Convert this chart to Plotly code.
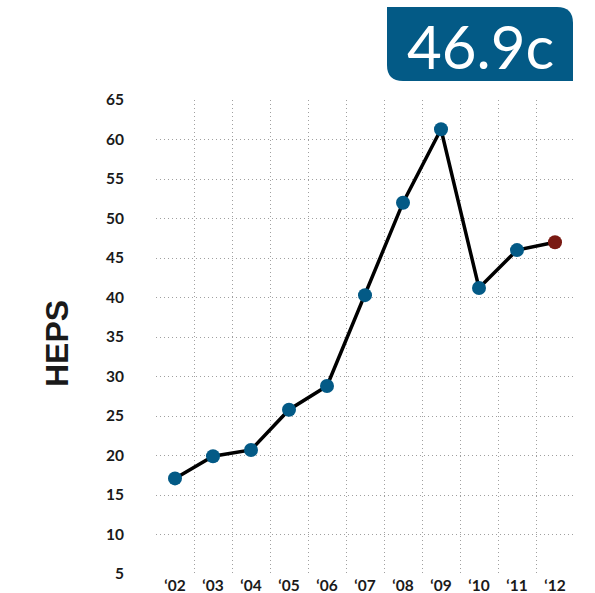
import plotly.graph_objects as go

years = ["‘02", "‘03", "‘04", "‘05", "‘06", "‘07", "‘08", "‘09", "‘10", "‘11", "‘12"]
heps = [17.1, 19.9, 20.7, 25.8, 28.8, 40.3, 52.0, 61.3, 41.2, 46.0, 47.0]
y_ticks = [5, 10, 15, 20, 25, 30, 35, 40, 45, 50, 55, 60, 65]
headline = "46.9c"

BLUE = "#035A86"
RED = "#7A1A13"
GRID = "#A0A0A0"
DASH = "1px,3px"

x_idx = list(range(len(years)))
marker_colors = [BLUE] * (len(heps) - 1) + [RED]

fig = go.Figure()
fig.add_trace(go.Scatter(
    x=x_idx, y=heps, mode="lines+markers",
    line=dict(color="#000000", width=3.5),
    marker=dict(size=14, color=marker_colors, line=dict(width=0)),
    showlegend=False, cliponaxis=False,
))

fig.update_layout(
    width=595, height=593,
    margin=dict(l=156, r=21, t=100, b=19),
    paper_bgcolor="white", plot_bgcolor="white",
    font=dict(family="Lato, Open Sans, sans-serif", color="#1a1a1a"),
)

fig.update_xaxes(
    range=[-0.5, len(years) - 0.5],
    tickmode="array", tickvals=x_idx, ticktext=years,
    showgrid=False, zeroline=False, showline=False, ticks="",
    tickfont=dict(size=15.5, family="Lato", weight="bold", color="#1a1a1a"),
    minor=dict(tickmode="array", tickvals=[i - 0.5 for i in range(len(years) + 1)],
               showgrid=True, gridcolor=GRID, gridwidth=1, griddash=DASH, ticks=""),
    automargin=False,
)
fig.update_yaxes(
    range=[5, 65], tickmode="array", tickvals=y_ticks,
    showgrid=True, gridcolor=GRID, gridwidth=1, griddash=DASH,
    zeroline=False, showline=False, ticks="",
    ticklabelstandoff=31,
    tickfont=dict(size=15.5, family="Lato", weight="bold", color="#1a1a1a"),
    automargin=False,
)

# y-axis title
fig.add_annotation(
    text="HEPS", xref="paper", yref="paper",
    x=(57 - 156) / 418, y=(574 - 344) / 474,
    showarrow=False, textangle=-90,
    font=dict(family="Liberation Sans", size=32, weight="bold", color="#1a1a1a"),
    xanchor="center", yanchor="middle",
)

# headline box with rounded top-right and bottom-left corners
x0, x1 = (387 - 156) / 418, (573 - 156) / 418
y0, y1 = (574 - 81) / 474, (574 - 7) / 474
rx, ry = 16 / 418, 16 / 474
path = (f"M {x0},{y1} L {x1 - rx},{y1} Q {x1},{y1} {x1},{y1 - ry} "
        f"L {x1},{y0} L {x0 + rx},{y0} Q {x0},{y0} {x0},{y0 + ry} Z")
fig.add_shape(type="path", path=path, xref="paper", yref="paper",
              fillcolor=BLUE, line=dict(width=0), layer="above")
fig.add_annotation(
    text=headline, xref="paper", yref="paper",
    x=(x0 + x1) / 2, y=(y0 + y1) / 2 - 0.004,
    showarrow=False, xanchor="center", yanchor="middle",
    font=dict(family="Lato", size=60, color="white"),
)

fig.write_html("out.html")
